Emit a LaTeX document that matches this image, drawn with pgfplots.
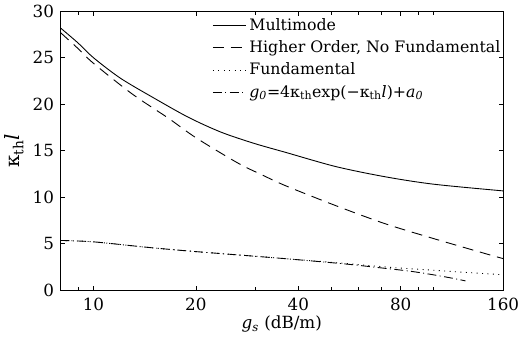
\documentclass[border=0pt]{standalone}
\usepackage{fontspec}
\setmainfont{DejaVu Serif}
\usepackage{pgfplots}
\pgfplotsset{compat=1.18}
\begin{document}
\fontsize{15}{18}\selectfont
\begin{tikzpicture}
\begin{axis}[
  scale only axis, width=449pt, height=283pt,
  xmode=log, xmin=8, xmax=160, ymin=0, ymax=30,
  xtick={10,20,40,80,160}, xticklabels={10,20,40,80,160},
  minor xtick={9,30,50,60,70,90,100},
  ytick={0,5,10,15,20,25,30}, yticklabels={0,5,10,15,20,25,30},
  /pgf/number format/assume math mode=true,
  tick align=inside,
  major tick length=4.5pt, minor tick length=3.5pt,
  axis line style={line width=0.9pt},
  every tick/.style={black, line width=0.7pt},
  ticklabel style={font=\fontsize{17}{19}\selectfont},
  xticklabel style={yshift=-3pt},
  yticklabel style={xshift=-1.5pt},
  xlabel={\textit{g}\textsubscript{\textit{s}} (dB/m)},
  ylabel={κ\textsubscript{th}\textit{l}},
  xlabel style={font=\fontsize{17}{19}\selectfont, yshift=5pt},
  ylabel style={font=\fontsize{20}{22}\selectfont, yshift=-1pt},
  legend image code/.code={\draw[#1] (0pt,0pt) -- (34pt,0pt);},
  legend cell align=left,
  legend style={at={(0.343,0.984)}, anchor=north west, draw=none, fill=none,
    font=\fontsize{16}{19}\selectfont, inner sep=0pt, row sep=3.2pt,
    nodes={inner sep=2.5pt}},
]
\addplot[black, line width=0.9pt, smooth] coordinates {
(8,28.2) (9,26.6) (10,25.0) (12,22.8) (15,20.7) (19,18.6) (23.7,17.0) (29.6,15.8)
(36.9,14.8) (51.5,13.3) (72,12.2) (100,11.4) (160,10.68)};
\addlegendentry{Multimode}
\addplot[black, line width=0.9pt, smooth, dash pattern=on 11pt off 7pt] coordinates {
(8,27.7) (9,26.0) (10,24.4) (13,21.1) (16.6,18.5) (20,16.4) (26.5,13.7) (31.3,12.4)
(36.9,11.2) (51.5,9.1) (72,7.15) (100,5.55) (143,3.9) (160,3.4)};
\addlegendentry{Higher Order, No Fundamental}
\addplot[black, line width=0.9pt, smooth, dash pattern=on 1pt off 4.5pt] coordinates {
(8,5.35) (10,5.2) (14.5,4.6) (20,4.15) (35,3.45) (54,2.9) (75,2.45) (95,2.2) (120,1.95) (160,1.66)};
\addlegendentry{Fundamental}
\addplot[black, line width=0.9pt, smooth, dash pattern=on 9pt off 3.5pt on 1pt off 3.5pt] coordinates {
(8,5.35) (10,5.2) (14.5,4.6) (20,4.15) (35,3.45) (54,2.85) (70,2.4) (85,2.05) (100,1.65) (115,1.25) (124,1.0)};
\addlegendentry{\textit{g}\textsubscript{\textit{0}}=4κ\textsubscript{th}exp(−κ\textsubscript{th}\textit{l})+\textit{a}\textsubscript{\textit{0}}}
\end{axis}
\end{tikzpicture}
\end{document}
